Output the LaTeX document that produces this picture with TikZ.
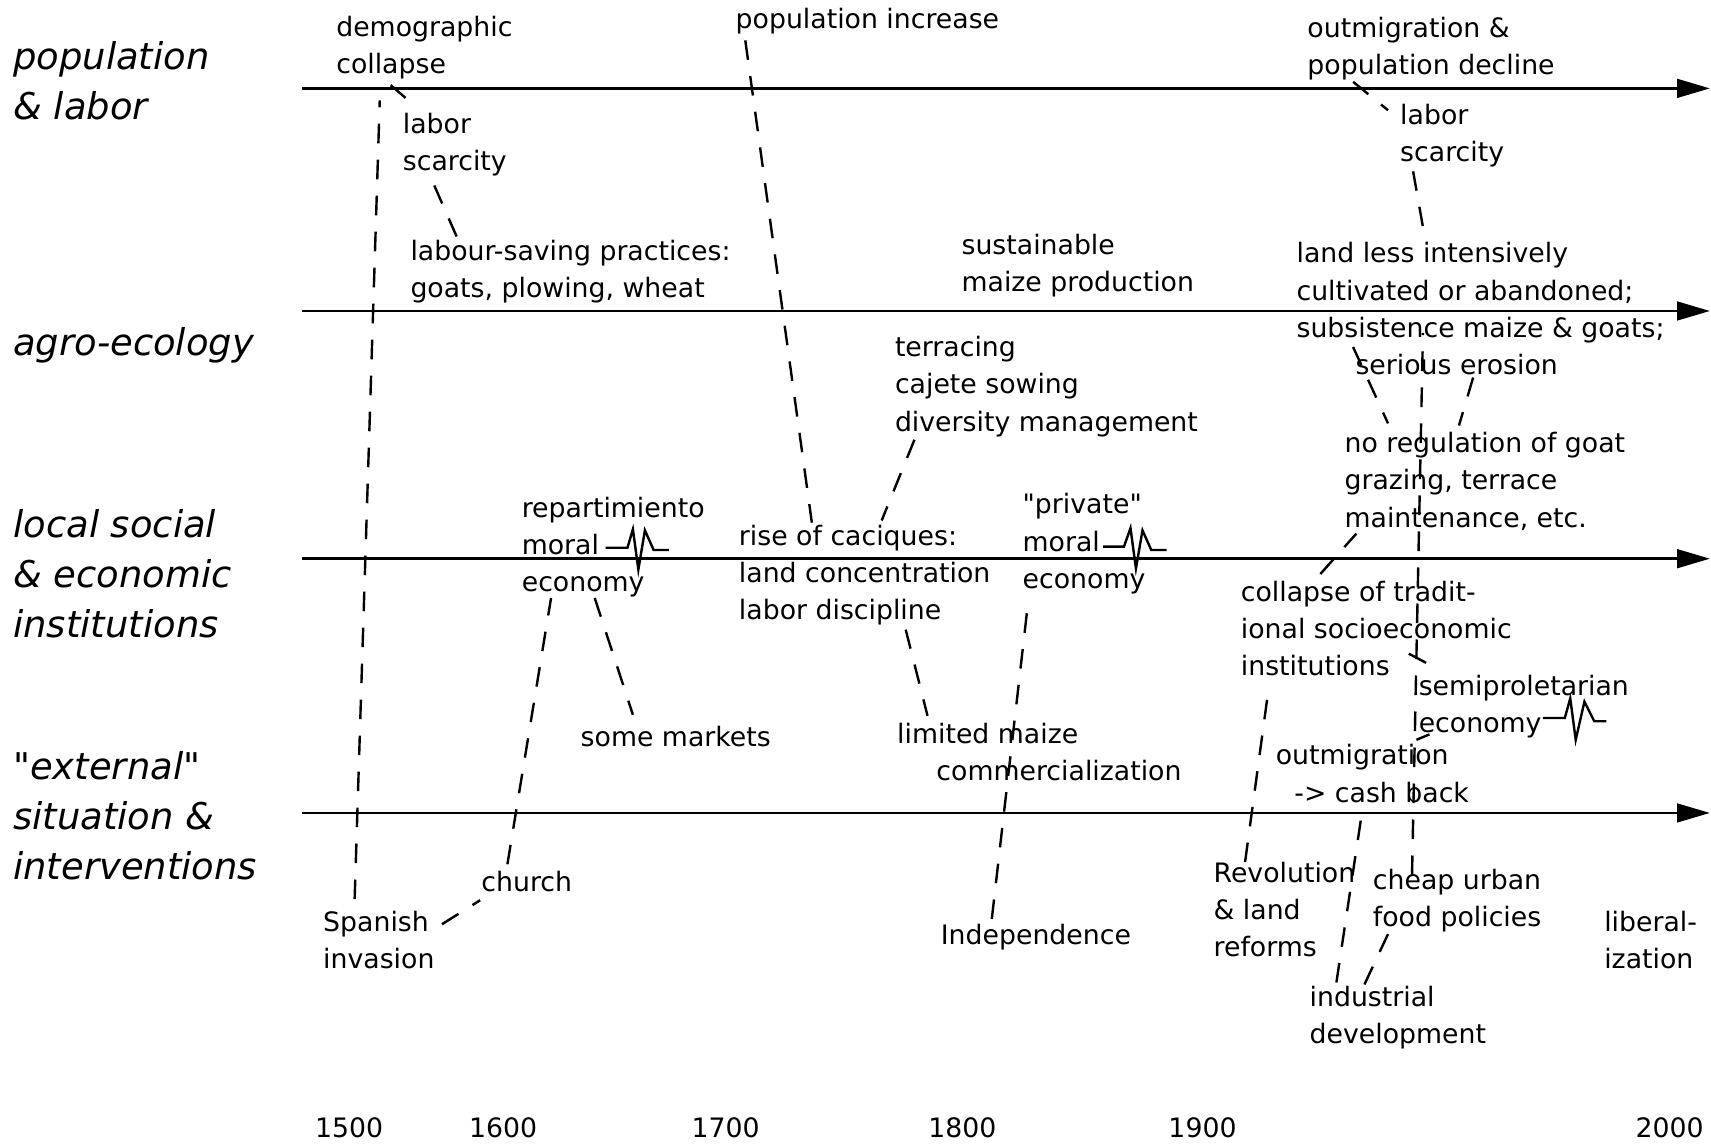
\documentclass[tikz,border=0pt]{standalone}
\usepackage{fontspec}
\newfontfamily\geneva{DejaVu Sans}
\usetikzlibrary{arrows.meta,calc}

\begin{document}
\begin{tikzpicture}[x=1pt,y=-1pt,
  txt/.style={anchor=north west,inner sep=0pt,align=left,font=\geneva\fontsize{24.5}{34}\selectfont,execute at begin node=\strut},
  row/.style={anchor=north west,inner sep=0pt,align=left,font=\geneva\itshape\fontsize{33.8}{46}\selectfont,execute at begin node=\strut},
  yr/.style={anchor=base,inner sep=0pt,font=\geneva\fontsize{24.5}{34}\selectfont},
  axis/.style={line width=2.5pt,-{Triangle[length=30pt,width=17pt]}},
  link/.style={line width=2.2pt,dash pattern=on 18pt off 15pt},
  spike/.style={line width=2.2pt,line join=miter}]
\useasboundingbox (0,0) rectangle (1568,1048);

% row labels
\node[row] (rpop) at (12,31) {\strut population\\\& labor};
\node[row] (ragro) at (12,293) {agro-ecology};
\node[row] (rlocal) at (12,460) {\strut local social\\\& economic\\institutions};
\node[row] (rext) at (12,682) {\strut "external"\\situation \&\\interventions};

% time axes
\foreach \y [count=\i] in {81,285,512,745} {
  \coordinate (s\i) at (277,\y);
  \coordinate (e\i) at (1567,\y);
  \draw[axis] (s\i) -- (e\i);
}

% population & labor
\node[txt] (collapse) at (308,9) {\strut demographic\\collapse};
\node[txt] (laborA) at (369,98) {\strut labor\\scarcity};
\node[txt] (popinc) at (674,2) {population increase};
\node[txt] (decline) at (1198,10) {\strut outmigration \&\\population decline};
\node[txt] (laborB) at (1283,90) {\strut labor\\scarcity};

% agro-ecology
\node[txt] (saving) at (376,215) {\strut labour-saving practices:\\goats, plowing, wheat};
\node[txt] (sustain) at (881,209) {\strut sustainable\\maize production};
\node[txt] (landless) at (1188,217) {\strut land less intensively\\cultivated or abandoned;\\subsistence maize \& goats;\\\hspace*{54pt}serious erosion};
\node[txt] (terrace) at (820,303) {\strut terracing\\cajete sowing\\diversity management};
\node[txt] (noreg) at (1232,391) {\strut no regulation of goat\\grazing, terrace\\maintenance, etc.};

% local institutions
\node[txt] (repart) at (478,450) {\strut repartimiento\\moral\\economy};
\node[txt] (caciques) at (677,476) {\strut rise of caciques:\\land concentration\\labor discipline};
\node[txt] (private) at (937,447) {\strut "private"\\moral\\economy};
\node[txt] (tradit) at (1137,527) {\strut collapse of tradit-\\ional socioeconomic\\institutions};
\node[txt] (markets) at (532,660) {some markets};
\node[txt] (maize) at (822,657) {\strut limited maize\\\hspace*{36pt}commercialization};
\node[txt] (semiprol) at (1300,613) {\strut semiproletarian\\economy};
\node[txt] (outmig) at (1169,677) {\strut outmigration\\\hspace*{17pt}-> cash back};

% external situation
\node[txt] (spanish) at (296,830) {\strut Spanish\\invasion};
\node[txt] (church) at (441,793) {church};
\node[txt] (indep) at (862,842) {Independence};
\node[txt] (revol) at (1112,785) {\strut Revolution\\\& land\\reforms};
\node[txt] (cheap) at (1258,791) {\strut cheap urban\\food policies};
\node[txt] (industry) at (1200,898) {\strut industrial\\development};
\node[txt] (liberal) at (1470,830) {\strut liberal-\\ization};

% years
\foreach \x/\t in {320/1500,461/1600,665/1700,882/1800,1102/1900,1530/2000}
  \node[yr] (y\t) at (\x,1042) {\t};

% break marks
\draw[spike] ($(repart.north west)+(77,52)$) -- ++(20,0) -- ++(5,-17) -- ++(5,37) -- ++(6,-36) -- ++(8,18) -- ++(14,0);
\draw[spike] ($(private.north west)+(74,54)$) -- ++(19,0) -- ++(6,-17) -- ++(5,37) -- ++(6,-35) -- ++(8,18) -- ++(14,0);
\draw[spike] ($(semiprol.north west)+(114,45)$) -- ++(20,0) -- ++(5,-18) -- ++(5,38) -- ++(8,-35) -- ++(9,18) -- ++(11,0);

% links
\draw[link] ($(spanish.north west)+(29,-6)$) -- ($(collapse.north west)+(40,83)$);
\draw[link] ($(collapse.north west)+(50,69)$) -- ($(laborA.north west)+(3,-8)$);
\draw[link] ($(laborA.north west)+(29,72)$) -- ($(saving.north west)+(43,3)$);
\draw[link] ($(popinc.north west)+(9,35)$) -- ($(caciques.north west)+(67,3)$);
\draw[link] ($(terrace.north west)+(18,100)$) -- ($(caciques.north west)+(131,1)$);
\draw[link] ($(caciques.north west)+(153,101)$) -- ($(maize.north west)+(28,-1)$);
\draw[link] ($(private.north west)+(4,115)$) -- ($(indep.north west)+(46,8)$);
\draw[link] ($(repart.north west)+(67,98)$) -- ($(markets.north west)+(48,-5)$);
\draw[link] ($(church.north west)+(24,-1)$) -- ($(repart.north west)+(27,98)$);
\draw[link] ($(spanish.north west)+(109,17)$) -- ($(church.north west)+(-1,32)$);
\draw[link] ($(decline.north west)+(42,65)$) -- ($(laborB.north west)+(-11,11)$);
\draw[link] ($(laborB.north west)+(12,67)$) -- ($(landless.north west)+(116,-9)$);
\draw[link] ($(landless.north west)+(52,101)$) -- ($(noreg.north west)+(40,-3)$);
\draw[link] ($(landless.north west)+(162,129)$) -- ($(noreg.north west)+(105,-1)$);
\draw[link] ($(cheap.north west)+(36,11)$) -- ($(landless.north west)+(116,88)$);
\draw[link] ($(tradit.north west)+(73,-1)$) -- ($(noreg.north west)+(11,98)$);
\draw[link] ($(tradit.north west)+(154,72)$) -- ($(semiprol.north west)+(8,-5)$);
\draw[link] ($(outmig.north west)+(129,1)$) -- ($(semiprol.north west)+(10,60)$);
\draw[link] ($(revol.north west)+(29,5)$) -- ($(tradit.north west)+(25,108)$);
\draw[link] ($(outmig.north west)+(78,75)$) -- ($(industry.north west)+(24,7)$);
\draw[link] ($(cheap.north west)+(14,65)$) -- ($(industry.north west)+(50,5)$);
\end{tikzpicture}
\end{document}
